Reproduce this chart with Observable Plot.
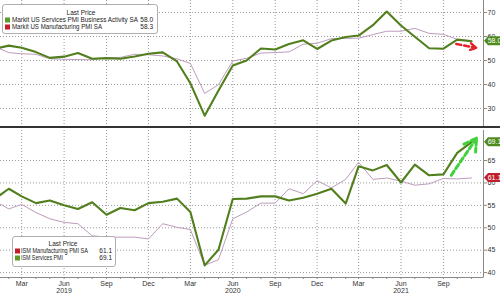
<!DOCTYPE html>
<html><head><meta charset="utf-8">
<script src="https://cdn.jsdelivr.net/npm/d3@7"></script>
<script src="https://cdn.jsdelivr.net/npm/@observablehq/plot@0.6"></script>
<style>
body{margin:0;background:#fff;}
#wrap{position:relative;width:500px;height:293px;overflow:hidden;font-family:"Liberation Sans",Arial,sans-serif;}
#top{position:absolute;left:0;top:0;}
#bot{position:absolute;left:0;top:128px;}
#sep{position:absolute;left:0;top:126px;width:500px;height:2px;background:#333;}
</style>
</head><body>
<div id="wrap">
  <div id="top"></div>
  <div id="sep"></div>
  <div id="bot"></div>
</div>
<script>
// ---- data ----
const months = ["2019-01","2019-02","2019-03","2019-04","2019-05","2019-06","2019-07","2019-08","2019-09","2019-10","2019-11","2019-12",
"2020-01","2020-02","2020-03","2020-04","2020-05","2020-06","2020-07","2020-08","2020-09","2020-10","2020-11","2020-12",
"2021-01","2021-02","2021-03","2021-04","2021-05","2021-06","2021-07","2021-08","2021-09","2021-10","2021-11"];

const markitServices = [54.8,56.2,55.3,53.5,51.1,51.6,53.1,50.7,51.0,50.7,51.7,52.8,
53.4,49.6,40.5,27.0,37.5,47.9,50.0,55.0,54.6,56.9,58.4,54.8,
58.3,59.8,60.4,64.7,70.4,64.6,59.9,55.1,54.9,58.7,58.0];
const markitMfg = [55.8,53.3,52.8,52.6,50.7,50.5,50.4,50.3,51.1,51.3,52.6,52.4,
51.9,50.7,48.8,36.3,39.9,49.8,50.9,53.1,53.3,53.6,56.8,57.2,
59.1,59.2,59.3,60.8,62.2,62.2,63.4,61.3,60.9,58.8,58.3];
const ismServices = [56.4,58.7,57.0,55.5,56.1,55.0,54.2,55.7,52.9,54.4,53.9,55.5,
55.8,56.5,53.5,41.6,45.1,56.4,56.5,57.0,57.0,56.1,56.7,57.6,
58.7,55.4,63.7,62.8,64.0,60.1,64.1,61.7,61.9,66.7,69.1];
const ismMfg = [56.0,54.2,55.2,53.4,52.0,51.2,50.9,48.2,47.9,47.9,47.9,47.5,
50.9,50.1,49.6,41.6,42.9,52.0,53.5,55.5,55.5,58.7,57.6,60.5,
58.9,60.8,64.6,60.8,61.1,60.4,59.5,59.8,61.0,60.9,61.1];

const topNames = ["Markit US Services PMI Business Activity SA","Markit US Manufacturing PMI SA"];
const topLast = ["58.0","58.3"];
const botNames = ["ISM Manufacturing PMI SA","ISM Services PMI"];
const botLast = ["61.1","69.1"];
const legendTitle = "Last Price";

const quarterTicks = ["2019-03","2019-06","2019-09","2019-12","2020-03","2020-06","2020-09","2020-12","2021-03","2021-06","2021-09"];
const quarterLabels = ["Mar","Jun","Sep","Dec","Mar","Jun","Sep","Dec","Mar","Jun","Sep"];
const yearTicks = ["2019-06","2020-06","2021-06"];
const yearLabels = ["2019","2020","2021"];
const topYTicks = [30,40,50,60,70];
const botYTicks = [40,45,50,55,60,65];

// annotation arrows (data space)
const topArrow = [{x1:"2021-09-29", y1:56.9, x2:"2021-11-11", y2:55.3}];
const botArrow = [{x1:"2021-09-18", y1:61.7, x2:"2021-11-12", y2:70.0}];

// ---- styling ----
const GREEN = "#527f1d", MAUVE = "#bd9cbd", SQ_GREEN = "#5c9a2a", SQ_RED = "#c21f2d", TAG_GREEN = "#4f8a1e";
const GRID = {stroke:"#9a9a9a", strokeOpacity:1, strokeDasharray:"1,2"};
const parseM = d3.utcParse("%Y-%m");
const parseD = d3.utcParse("%Y-%m-%d");
const dates = months.map(parseM);
const qDates = quarterTicks.map(parseM);
const yDates = yearTicks.map(parseM);
const xDomain = [parseD("2019-01-14"), parseD("2021-11-27")];

const topMfg = dates.map((d,i)=>({date:d, v:markitMfg[i]}));
const topServ = dates.map((d,i)=>({date:d, v:markitServices[i]}));
const botMfg = dates.map((d,i)=>({date:d, v:ismMfg[i]}));
const botServ = dates.map((d,i)=>({date:d, v:ismServices[i]}));

function axisLines(sides){
  return (index, scales, values, dim) => {
    const g = d3.create("svg:g");
    const x1 = dim.marginLeft, x2 = dim.width - dim.marginRight;
    const y1 = dim.marginTop, y2 = dim.height - dim.marginBottom;
    if (sides.includes("right")) g.append("line").attr("x1",x2+0.5).attr("x2",x2+0.5).attr("y1",y1).attr("y2",y2).attr("stroke","#8a8a8a");
    if (sides.includes("bottom")) g.append("line").attr("x1",x1).attr("x2",x2+0.5).attr("y1",y2+0.5).attr("y2",y2+0.5).attr("stroke","#8a8a8a");
    return g.node();
  };
}
function tags(items){
  return (index, scales, values, dim) => {
    const g = d3.create("svg:g");
    const x0 = dim.width - dim.marginRight + 1;
    for (const t of items){
      const y = scales.y(+t.label);
      g.append("path").attr("d",`M${x0},${y} l4,-4.5 h13 v9 h-13 z`).attr("fill",t.color);
      g.append("text").attr("x",x0+10.5).attr("y",y).attr("dy","0.35em").attr("text-anchor","middle")
        .attr("fill","#fff").attr("font-size",7).text(t.label);
    }
    return g.node();
  };
}
// legend drawn inside the plot's svg (frame coordinates)
function legendMark(cfg){
  return (index, scales, values, dim) => {
    const g = d3.create("svg:g").attr("font-size",6.5).attr("fill","#222");
    g.append("rect").attr("x",cfg.x+0.5).attr("y",cfg.y+0.5).attr("width",cfg.w).attr("height",cfg.h)
      .attr("rx",2.5).attr("fill","#fff").attr("stroke","#b0b0b0");
    g.append("text").attr("x",cfg.x+cfg.titleX).attr("y",cfg.y+cfg.rowY[0]).attr("dy","0.35em")
      .attr("text-anchor","middle").text(legendTitle);
    cfg.names.forEach((n,i)=>{
      const ry = cfg.y + cfg.rowY[i+1];
      g.append("rect").attr("x",cfg.x+cfg.sqX).attr("y",ry-2.5).attr("width",5).attr("height",5).attr("fill",cfg.colors[i]);
      g.append("text").attr("x",cfg.x+cfg.textX).attr("y",ry).attr("dy","0.35em").attr("text-anchor","start")
        .attr("textLength",cfg.nameW[i]).attr("lengthAdjust","spacingAndGlyphs").text(n);
      g.append("text").attr("x",cfg.x+cfg.valX).attr("y",ry).attr("dy","0.35em").attr("text-anchor","end").text(cfg.vals[i]);
    });
    return g.node();
  };
}
const fontStyle = {fontFamily:'"Liberation Sans",Arial,sans-serif', fontSize:"7px", color:"#333", background:"transparent"};

const topPlot = Plot.plot({
  width:500, height:127, marginTop:0, marginBottom:1, marginLeft:0, marginRight:17,
  style: fontStyle,
  x:{type:"utc", domain:xDomain, axis:null},
  y:{domain:[22.5,75], axis:null},
  marks:[
    Plot.gridY(topYTicks, GRID),
    Plot.gridX(qDates, GRID),
    Plot.line(topMfg, {x:"date", y:"v", stroke:MAUVE, strokeWidth:1}),
    Plot.line(topServ, {x:"date", y:"v", stroke:GREEN, strokeWidth:2.1}),
    Plot.axisY(topYTicks, {anchor:"right", tickSize:3, tickPadding:1, fill:"#333", stroke:"#8a8a8a"}),
    axisLines(["right"]),
    Plot.arrow(topArrow, {x1:d=>parseD(d.x1), y1:"y1", x2:d=>parseD(d.x2), y2:"y2", stroke:"#e3232c", strokeWidth:2.5, strokeDasharray:"5,3", headLength:6, bend:0}),
    tags([{label:topLast[0], color:TAG_GREEN}]),
    legendMark({x:2, y:4, w:155, h:29, titleX:79, rowY:[8.5,16,23], sqX:3, textX:10, valX:151,
      nameW:[126, 90], names:topNames, vals:topLast, colors:[SQ_GREEN, SQ_RED]})
  ]
});
document.getElementById("top").append(topPlot);

const botPlot = Plot.plot({
  width:500, height:165, marginTop:2, marginBottom:16, marginLeft:0, marginRight:17,
  style: fontStyle,
  x:{type:"utc", domain:xDomain},
  y:{domain:[38.9,71.7], axis:null},
  marks:[
    Plot.gridY(botYTicks, GRID),
    Plot.gridX(qDates, GRID),
    Plot.line(botMfg, {x:"date", y:"v", stroke:MAUVE, strokeWidth:1}),
    Plot.line(botServ, {x:"date", y:"v", stroke:GREEN, strokeWidth:2.1}),
    Plot.axisY(botYTicks, {anchor:"right", tickSize:3, tickPadding:1, fill:"#333", stroke:"#8a8a8a"}),
    Plot.axisX(dates, {anchor:"bottom", tickSize:2, tickFormat:()=>"", stroke:"#8a8a8a"}),
    Plot.axisX(qDates, {anchor:"bottom", tickSize:0, tickPadding:3.5, tickFormat:(d,i)=>quarterLabels[i], fill:"#333"}),
    Plot.axisX(yDates, {anchor:"bottom", tickSize:0, tickPadding:10.5, tickFormat:(d,i)=>yearLabels[i], fill:"#333"}),
    axisLines(["right","bottom"]),
    Plot.arrow(botArrow, {x1:d=>parseD(d.x1), y1:"y1", x2:d=>parseD(d.x2), y2:"y2", stroke:"#41d13c", strokeWidth:3, strokeDasharray:"5,3", headLength:7, bend:0}),
    tags([{label:botLast[0], color:SQ_RED},{label:botLast[1], color:TAG_GREEN}]),
    legendMark({x:12, y:108, w:103, h:30, titleX:51, rowY:[8,15,22], sqX:3, textX:9, valX:100,
      nameW:[67, 42], names:botNames, vals:botLast, colors:[SQ_RED, SQ_GREEN]})
  ]
});
document.getElementById("bot").append(botPlot);
</script>
</body></html>
